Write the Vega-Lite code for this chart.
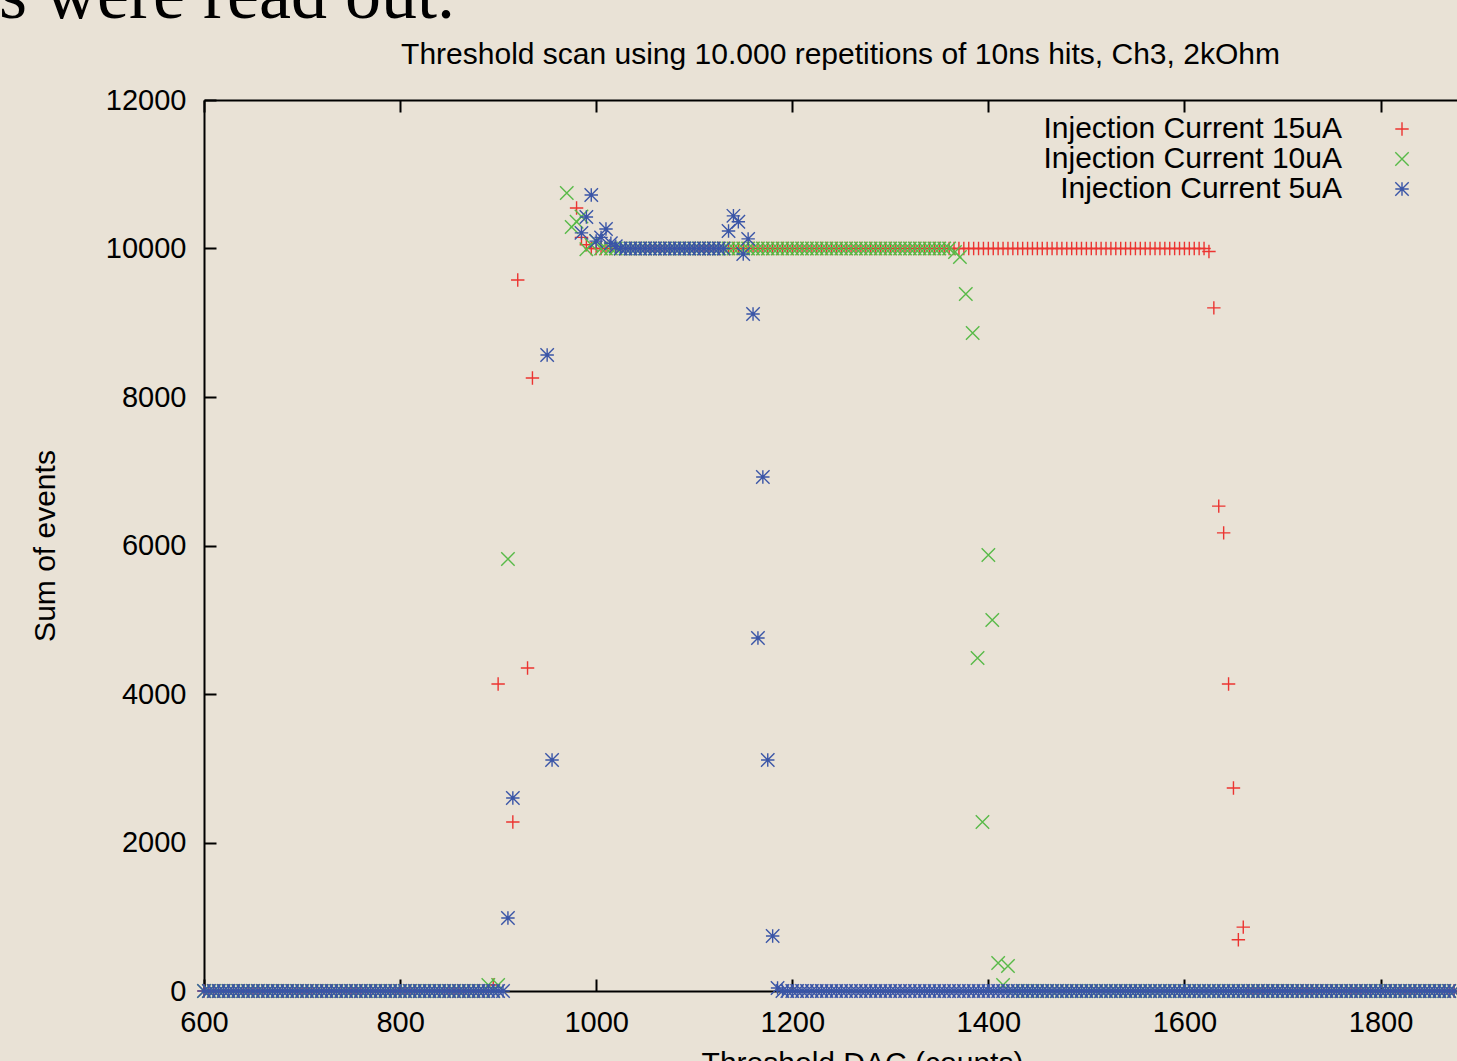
{
"$schema":"https://vega.github.io/schema/vega-lite/v6.json",
"width":1253,"height":891,
"autosize":{"type":"none"},
"padding":{"left":204,"top":100,"right":0,"bottom":70},
"background":"#E9E2D6",
"config":{"view":{"stroke":null},"font":"Liberation Sans",
"axis":{"labelFont":"Liberation Sans","labelFontSize":29,"labelColor":"black","titleFont":"Liberation Sans","titleFontSize":30,"titleFontWeight":"normal","titleColor":"black","domainColor":"black","domainWidth":2,"tickColor":"black","tickWidth":2,"tickSize":-12,"grid":false,"labelFlush":false,"format":"d"},
"legend":{"labelFont":"Liberation Sans","labelFontSize":30,"labelColor":"black","labelLimit":0}},
"title":{"text":"Threshold scan using 10.000 repetitions of 10ns hits, Ch3, 2kOhm","font":"Liberation Sans","fontSize":30,"fontWeight":"normal","color":"black","anchor":"middle","frame":"group","dx":10,"offset":-134,"baseline":"alphabetic"},
"layer":[
{"data":{"values":[
{"s":"a","x":600,"y":0},{"s":"a","x":605,"y":0},{"s":"a","x":610,"y":0},{"s":"a","x":615,"y":0},{"s":"a","x":620,"y":0},{"s":"a","x":625,"y":0},{"s":"a","x":630,"y":0},{"s":"a","x":635,"y":0},{"s":"a","x":640,"y":0},{"s":"a","x":645,"y":0},{"s":"a","x":650,"y":0},{"s":"a","x":655,"y":0},{"s":"a","x":660,"y":0},{"s":"a","x":665,"y":0},{"s":"a","x":670,"y":0},{"s":"a","x":675,"y":0},{"s":"a","x":680,"y":0},{"s":"a","x":685,"y":0},{"s":"a","x":690,"y":0},{"s":"a","x":695,"y":0},
{"s":"a","x":700,"y":0},{"s":"a","x":705,"y":0},{"s":"a","x":710,"y":0},{"s":"a","x":715,"y":0},{"s":"a","x":720,"y":0},{"s":"a","x":725,"y":0},{"s":"a","x":730,"y":0},{"s":"a","x":735,"y":0},{"s":"a","x":740,"y":0},{"s":"a","x":745,"y":0},{"s":"a","x":750,"y":0},{"s":"a","x":755,"y":0},{"s":"a","x":760,"y":0},{"s":"a","x":765,"y":0},{"s":"a","x":770,"y":0},{"s":"a","x":775,"y":0},{"s":"a","x":780,"y":0},{"s":"a","x":785,"y":0},{"s":"a","x":790,"y":0},{"s":"a","x":795,"y":0},
{"s":"a","x":800,"y":0},{"s":"a","x":805,"y":0},{"s":"a","x":810,"y":0},{"s":"a","x":815,"y":0},{"s":"a","x":820,"y":0},{"s":"a","x":825,"y":0},{"s":"a","x":830,"y":0},{"s":"a","x":835,"y":0},{"s":"a","x":840,"y":0},{"s":"a","x":845,"y":0},{"s":"a","x":850,"y":0},{"s":"a","x":855,"y":0},{"s":"a","x":860,"y":0},{"s":"a","x":865,"y":0},{"s":"a","x":870,"y":0},{"s":"a","x":875,"y":0},{"s":"a","x":880,"y":0},{"s":"a","x":885,"y":0},{"s":"a","x":890,"y":0},{"s":"a","x":895,"y":80},
{"s":"a","x":900,"y":4135},{"s":"a","x":915,"y":2276},{"s":"a","x":920,"y":9576},{"s":"a","x":930,"y":4350},{"s":"a","x":935,"y":8256},{"s":"a","x":980,"y":10545},{"s":"a","x":985,"y":10150},{"s":"a","x":990,"y":10050},
{"s":"a","x":995,"y":10000},{"s":"a","x":1000,"y":10000},{"s":"a","x":1005,"y":10000},{"s":"a","x":1010,"y":10000},{"s":"a","x":1015,"y":10000},{"s":"a","x":1020,"y":10000},{"s":"a","x":1025,"y":10000},{"s":"a","x":1030,"y":10000},{"s":"a","x":1035,"y":10000},{"s":"a","x":1040,"y":10000},{"s":"a","x":1045,"y":10000},{"s":"a","x":1050,"y":10000},{"s":"a","x":1055,"y":10000},{"s":"a","x":1060,"y":10000},{"s":"a","x":1065,"y":10000},{"s":"a","x":1070,"y":10000},{"s":"a","x":1075,"y":10000},{"s":"a","x":1080,"y":10000},{"s":"a","x":1085,"y":10000},{"s":"a","x":1090,"y":10000},{"s":"a","x":1095,"y":10000},
{"s":"a","x":1100,"y":10000},{"s":"a","x":1105,"y":10000},{"s":"a","x":1110,"y":10000},{"s":"a","x":1115,"y":10000},{"s":"a","x":1120,"y":10000},{"s":"a","x":1125,"y":10000},{"s":"a","x":1130,"y":10000},{"s":"a","x":1135,"y":10000},{"s":"a","x":1140,"y":10000},{"s":"a","x":1145,"y":10000},{"s":"a","x":1150,"y":10000},{"s":"a","x":1155,"y":10000},{"s":"a","x":1160,"y":10000},{"s":"a","x":1165,"y":10000},{"s":"a","x":1170,"y":10000},{"s":"a","x":1175,"y":10000},{"s":"a","x":1180,"y":10000},{"s":"a","x":1185,"y":10000},{"s":"a","x":1190,"y":10000},{"s":"a","x":1195,"y":10000},
{"s":"a","x":1200,"y":10000},{"s":"a","x":1205,"y":10000},{"s":"a","x":1210,"y":10000},{"s":"a","x":1215,"y":10000},{"s":"a","x":1220,"y":10000},{"s":"a","x":1225,"y":10000},{"s":"a","x":1230,"y":10000},{"s":"a","x":1235,"y":10000},{"s":"a","x":1240,"y":10000},{"s":"a","x":1245,"y":10000},{"s":"a","x":1250,"y":10000},{"s":"a","x":1255,"y":10000},{"s":"a","x":1260,"y":10000},{"s":"a","x":1265,"y":10000},{"s":"a","x":1270,"y":10000},{"s":"a","x":1275,"y":10000},{"s":"a","x":1280,"y":10000},{"s":"a","x":1285,"y":10000},{"s":"a","x":1290,"y":10000},{"s":"a","x":1295,"y":10000},
{"s":"a","x":1300,"y":10000},{"s":"a","x":1305,"y":10000},{"s":"a","x":1310,"y":10000},{"s":"a","x":1315,"y":10000},{"s":"a","x":1320,"y":10000},{"s":"a","x":1325,"y":10000},{"s":"a","x":1330,"y":10000},{"s":"a","x":1335,"y":10000},{"s":"a","x":1340,"y":10000},{"s":"a","x":1345,"y":10000},{"s":"a","x":1350,"y":10000},{"s":"a","x":1355,"y":10000},{"s":"a","x":1360,"y":10000},{"s":"a","x":1365,"y":10000},{"s":"a","x":1370,"y":10000},{"s":"a","x":1375,"y":10000},{"s":"a","x":1380,"y":10000},{"s":"a","x":1385,"y":10000},{"s":"a","x":1390,"y":10000},{"s":"a","x":1395,"y":10000},
{"s":"a","x":1400,"y":10000},{"s":"a","x":1405,"y":10000},{"s":"a","x":1410,"y":10000},{"s":"a","x":1415,"y":10000},{"s":"a","x":1420,"y":10000},{"s":"a","x":1425,"y":10000},{"s":"a","x":1430,"y":10000},{"s":"a","x":1435,"y":10000},{"s":"a","x":1440,"y":10000},{"s":"a","x":1445,"y":10000},{"s":"a","x":1450,"y":10000},{"s":"a","x":1455,"y":10000},{"s":"a","x":1460,"y":10000},{"s":"a","x":1465,"y":10000},{"s":"a","x":1470,"y":10000},{"s":"a","x":1475,"y":10000},{"s":"a","x":1480,"y":10000},{"s":"a","x":1485,"y":10000},{"s":"a","x":1490,"y":10000},{"s":"a","x":1495,"y":10000},
{"s":"a","x":1500,"y":10000},{"s":"a","x":1505,"y":10000},{"s":"a","x":1510,"y":10000},{"s":"a","x":1515,"y":10000},{"s":"a","x":1520,"y":10000},{"s":"a","x":1525,"y":10000},{"s":"a","x":1530,"y":10000},{"s":"a","x":1535,"y":10000},{"s":"a","x":1540,"y":10000},{"s":"a","x":1545,"y":10000},{"s":"a","x":1550,"y":10000},{"s":"a","x":1555,"y":10000},{"s":"a","x":1560,"y":10000},{"s":"a","x":1565,"y":10000},{"s":"a","x":1570,"y":10000},{"s":"a","x":1575,"y":10000},{"s":"a","x":1580,"y":10000},{"s":"a","x":1585,"y":10000},{"s":"a","x":1590,"y":10000},{"s":"a","x":1595,"y":10000},
{"s":"a","x":1600,"y":10000},{"s":"a","x":1605,"y":10000},{"s":"a","x":1610,"y":10000},{"s":"a","x":1615,"y":10000},{"s":"a","x":1620,"y":10000},{"s":"a","x":1625,"y":9960},{"s":"a","x":1630,"y":9200},{"s":"a","x":1635,"y":6530},{"s":"a","x":1640,"y":6170},{"s":"a","x":1645,"y":4135},{"s":"a","x":1650,"y":2735},{"s":"a","x":1655,"y":690},{"s":"a","x":1660,"y":860},
{"s":"a","x":1665,"y":0},{"s":"a","x":1670,"y":0},{"s":"a","x":1675,"y":0},{"s":"a","x":1680,"y":0},{"s":"a","x":1685,"y":0},{"s":"a","x":1690,"y":0},{"s":"a","x":1695,"y":0},{"s":"a","x":1700,"y":0},{"s":"a","x":1705,"y":0},{"s":"a","x":1710,"y":0},{"s":"a","x":1715,"y":0},{"s":"a","x":1720,"y":0},{"s":"a","x":1725,"y":0},{"s":"a","x":1730,"y":0},{"s":"a","x":1735,"y":0},{"s":"a","x":1740,"y":0},{"s":"a","x":1745,"y":0},{"s":"a","x":1750,"y":0},{"s":"a","x":1755,"y":0},{"s":"a","x":1760,"y":0},{"s":"a","x":1765,"y":0},{"s":"a","x":1770,"y":0},{"s":"a","x":1775,"y":0},{"s":"a","x":1780,"y":0},{"s":"a","x":1785,"y":0},{"s":"a","x":1790,"y":0},{"s":"a","x":1795,"y":0},{"s":"a","x":1800,"y":0},{"s":"a","x":1805,"y":0},{"s":"a","x":1810,"y":0},{"s":"a","x":1815,"y":0},{"s":"a","x":1820,"y":0},{"s":"a","x":1825,"y":0},{"s":"a","x":1830,"y":0},{"s":"a","x":1835,"y":0},{"s":"a","x":1840,"y":0},{"s":"a","x":1845,"y":0},{"s":"a","x":1850,"y":0},{"s":"a","x":1855,"y":0},{"s":"a","x":1860,"y":0},{"s":"a","x":1865,"y":0},{"s":"a","x":1870,"y":0},{"s":"a","x":1875,"y":0},

{"s":"b","x":600,"y":0},{"s":"b","x":605,"y":0},{"s":"b","x":610,"y":0},{"s":"b","x":615,"y":0},{"s":"b","x":620,"y":0},{"s":"b","x":625,"y":0},{"s":"b","x":630,"y":0},{"s":"b","x":635,"y":0},{"s":"b","x":640,"y":0},{"s":"b","x":645,"y":0},{"s":"b","x":650,"y":0},{"s":"b","x":655,"y":0},{"s":"b","x":660,"y":0},{"s":"b","x":665,"y":0},{"s":"b","x":670,"y":0},{"s":"b","x":675,"y":0},{"s":"b","x":680,"y":0},{"s":"b","x":685,"y":0},{"s":"b","x":690,"y":0},{"s":"b","x":695,"y":0},
{"s":"b","x":700,"y":0},{"s":"b","x":705,"y":0},{"s":"b","x":710,"y":0},{"s":"b","x":715,"y":0},{"s":"b","x":720,"y":0},{"s":"b","x":725,"y":0},{"s":"b","x":730,"y":0},{"s":"b","x":735,"y":0},{"s":"b","x":740,"y":0},{"s":"b","x":745,"y":0},{"s":"b","x":750,"y":0},{"s":"b","x":755,"y":0},{"s":"b","x":760,"y":0},{"s":"b","x":765,"y":0},{"s":"b","x":770,"y":0},{"s":"b","x":775,"y":0},{"s":"b","x":780,"y":0},{"s":"b","x":785,"y":0},{"s":"b","x":790,"y":0},{"s":"b","x":795,"y":0},
{"s":"b","x":800,"y":0},{"s":"b","x":805,"y":0},{"s":"b","x":810,"y":0},{"s":"b","x":815,"y":0},{"s":"b","x":820,"y":0},{"s":"b","x":825,"y":0},{"s":"b","x":830,"y":0},{"s":"b","x":835,"y":0},{"s":"b","x":840,"y":0},{"s":"b","x":845,"y":0},{"s":"b","x":850,"y":0},{"s":"b","x":855,"y":0},{"s":"b","x":860,"y":0},{"s":"b","x":865,"y":0},{"s":"b","x":870,"y":0},{"s":"b","x":875,"y":0},{"s":"b","x":880,"y":0},{"s":"b","x":885,"y":0},{"s":"b","x":890,"y":80},{"s":"b","x":895,"y":0},{"s":"b","x":900,"y":80},
{"s":"b","x":910,"y":5818},{"s":"b","x":970,"y":10747},{"s":"b","x":975,"y":10290},{"s":"b","x":980,"y":10360},{"s":"b","x":985,"y":10430},{"s":"b","x":990,"y":9990},{"s":"b","x":995,"y":10050},{"s":"b","x":1000,"y":10100},
{"s":"b","x":1005,"y":10000},{"s":"b","x":1010,"y":10000},{"s":"b","x":1015,"y":10000},{"s":"b","x":1020,"y":10000},{"s":"b","x":1025,"y":10000},{"s":"b","x":1030,"y":10000},{"s":"b","x":1035,"y":10000},{"s":"b","x":1040,"y":10000},{"s":"b","x":1045,"y":10000},{"s":"b","x":1050,"y":10000},{"s":"b","x":1055,"y":10000},{"s":"b","x":1060,"y":10000},{"s":"b","x":1065,"y":10000},{"s":"b","x":1070,"y":10000},{"s":"b","x":1075,"y":10000},{"s":"b","x":1080,"y":10000},{"s":"b","x":1085,"y":10000},{"s":"b","x":1090,"y":10000},{"s":"b","x":1095,"y":10000},
{"s":"b","x":1100,"y":10000},{"s":"b","x":1105,"y":10000},{"s":"b","x":1110,"y":10000},{"s":"b","x":1115,"y":10000},{"s":"b","x":1120,"y":10000},{"s":"b","x":1125,"y":10000},{"s":"b","x":1130,"y":10000},{"s":"b","x":1135,"y":10000},{"s":"b","x":1140,"y":10000},{"s":"b","x":1145,"y":10000},{"s":"b","x":1150,"y":10000},{"s":"b","x":1155,"y":10000},{"s":"b","x":1160,"y":10000},{"s":"b","x":1165,"y":10000},{"s":"b","x":1170,"y":10000},{"s":"b","x":1175,"y":10000},{"s":"b","x":1180,"y":10000},{"s":"b","x":1185,"y":10000},{"s":"b","x":1190,"y":10000},{"s":"b","x":1195,"y":10000},
{"s":"b","x":1200,"y":10000},{"s":"b","x":1205,"y":10000},{"s":"b","x":1210,"y":10000},{"s":"b","x":1215,"y":10000},{"s":"b","x":1220,"y":10000},{"s":"b","x":1225,"y":10000},{"s":"b","x":1230,"y":10000},{"s":"b","x":1235,"y":10000},{"s":"b","x":1240,"y":10000},{"s":"b","x":1245,"y":10000},{"s":"b","x":1250,"y":10000},{"s":"b","x":1255,"y":10000},{"s":"b","x":1260,"y":10000},{"s":"b","x":1265,"y":10000},{"s":"b","x":1270,"y":10000},{"s":"b","x":1275,"y":10000},{"s":"b","x":1280,"y":10000},{"s":"b","x":1285,"y":10000},{"s":"b","x":1290,"y":10000},{"s":"b","x":1295,"y":10000},
{"s":"b","x":1300,"y":10000},{"s":"b","x":1305,"y":10000},{"s":"b","x":1310,"y":10000},{"s":"b","x":1315,"y":10000},{"s":"b","x":1320,"y":10000},{"s":"b","x":1325,"y":10000},{"s":"b","x":1330,"y":10000},{"s":"b","x":1335,"y":10000},{"s":"b","x":1340,"y":10000},{"s":"b","x":1345,"y":10000},{"s":"b","x":1350,"y":10000},{"s":"b","x":1355,"y":10000},{"s":"b","x":1360,"y":10000},
{"s":"b","x":1366,"y":9953},{"s":"b","x":1371,"y":9885},{"s":"b","x":1377,"y":9387},{"s":"b","x":1384,"y":8862},{"s":"b","x":1389,"y":4485},{"s":"b","x":1394,"y":2276},{"s":"b","x":1400,"y":5872},{"s":"b","x":1404,"y":4997},{"s":"b","x":1410,"y":377},{"s":"b","x":1415,"y":80},{"s":"b","x":1420,"y":337},
{"s":"b","x":1425,"y":0},{"s":"b","x":1430,"y":0},{"s":"b","x":1435,"y":0},{"s":"b","x":1440,"y":0},{"s":"b","x":1445,"y":0},{"s":"b","x":1450,"y":0},{"s":"b","x":1455,"y":0},{"s":"b","x":1460,"y":0},{"s":"b","x":1465,"y":0},{"s":"b","x":1470,"y":0},{"s":"b","x":1475,"y":0},{"s":"b","x":1480,"y":0},{"s":"b","x":1485,"y":0},{"s":"b","x":1490,"y":0},{"s":"b","x":1495,"y":0},
{"s":"b","x":1500,"y":0},{"s":"b","x":1505,"y":0},{"s":"b","x":1510,"y":0},{"s":"b","x":1515,"y":0},{"s":"b","x":1520,"y":0},{"s":"b","x":1525,"y":0},{"s":"b","x":1530,"y":0},{"s":"b","x":1535,"y":0},{"s":"b","x":1540,"y":0},{"s":"b","x":1545,"y":0},{"s":"b","x":1550,"y":0},{"s":"b","x":1555,"y":0},{"s":"b","x":1560,"y":0},{"s":"b","x":1565,"y":0},{"s":"b","x":1570,"y":0},{"s":"b","x":1575,"y":0},{"s":"b","x":1580,"y":0},{"s":"b","x":1585,"y":0},{"s":"b","x":1590,"y":0},{"s":"b","x":1595,"y":0},
{"s":"b","x":1600,"y":0},{"s":"b","x":1605,"y":0},{"s":"b","x":1610,"y":0},{"s":"b","x":1615,"y":0},{"s":"b","x":1620,"y":0},{"s":"b","x":1625,"y":0},{"s":"b","x":1630,"y":0},{"s":"b","x":1635,"y":0},{"s":"b","x":1640,"y":0},{"s":"b","x":1645,"y":0},{"s":"b","x":1650,"y":0},{"s":"b","x":1655,"y":0},{"s":"b","x":1660,"y":0},{"s":"b","x":1665,"y":0},{"s":"b","x":1670,"y":0},{"s":"b","x":1675,"y":0},{"s":"b","x":1680,"y":0},{"s":"b","x":1685,"y":0},{"s":"b","x":1690,"y":0},{"s":"b","x":1695,"y":0},
{"s":"b","x":1700,"y":0},{"s":"b","x":1705,"y":0},{"s":"b","x":1710,"y":0},{"s":"b","x":1715,"y":0},{"s":"b","x":1720,"y":0},{"s":"b","x":1725,"y":0},{"s":"b","x":1730,"y":0},{"s":"b","x":1735,"y":0},{"s":"b","x":1740,"y":0},{"s":"b","x":1745,"y":0},{"s":"b","x":1750,"y":0},{"s":"b","x":1755,"y":0},{"s":"b","x":1760,"y":0},{"s":"b","x":1765,"y":0},{"s":"b","x":1770,"y":0},{"s":"b","x":1775,"y":0},{"s":"b","x":1780,"y":0},{"s":"b","x":1785,"y":0},{"s":"b","x":1790,"y":0},{"s":"b","x":1795,"y":0},
{"s":"b","x":1800,"y":0},{"s":"b","x":1805,"y":0},{"s":"b","x":1810,"y":0},{"s":"b","x":1815,"y":0},{"s":"b","x":1820,"y":0},{"s":"b","x":1825,"y":0},{"s":"b","x":1830,"y":0},{"s":"b","x":1835,"y":0},{"s":"b","x":1840,"y":0},{"s":"b","x":1845,"y":0},{"s":"b","x":1850,"y":0},{"s":"b","x":1855,"y":0},{"s":"b","x":1860,"y":0},{"s":"b","x":1865,"y":0},{"s":"b","x":1870,"y":0},{"s":"b","x":1875,"y":0},

{"s":"c","x":600,"y":0},{"s":"c","x":605,"y":0},{"s":"c","x":610,"y":0},{"s":"c","x":615,"y":0},{"s":"c","x":620,"y":0},{"s":"c","x":625,"y":0},{"s":"c","x":630,"y":0},{"s":"c","x":635,"y":0},{"s":"c","x":640,"y":0},{"s":"c","x":645,"y":0},{"s":"c","x":650,"y":0},{"s":"c","x":655,"y":0},{"s":"c","x":660,"y":0},{"s":"c","x":665,"y":0},{"s":"c","x":670,"y":0},{"s":"c","x":675,"y":0},{"s":"c","x":680,"y":0},{"s":"c","x":685,"y":0},{"s":"c","x":690,"y":0},{"s":"c","x":695,"y":0},
{"s":"c","x":700,"y":0},{"s":"c","x":705,"y":0},{"s":"c","x":710,"y":0},{"s":"c","x":715,"y":0},{"s":"c","x":720,"y":0},{"s":"c","x":725,"y":0},{"s":"c","x":730,"y":0},{"s":"c","x":735,"y":0},{"s":"c","x":740,"y":0},{"s":"c","x":745,"y":0},{"s":"c","x":750,"y":0},{"s":"c","x":755,"y":0},{"s":"c","x":760,"y":0},{"s":"c","x":765,"y":0},{"s":"c","x":770,"y":0},{"s":"c","x":775,"y":0},{"s":"c","x":780,"y":0},{"s":"c","x":785,"y":0},{"s":"c","x":790,"y":0},{"s":"c","x":795,"y":0},
{"s":"c","x":800,"y":0},{"s":"c","x":805,"y":0},{"s":"c","x":810,"y":0},{"s":"c","x":815,"y":0},{"s":"c","x":820,"y":0},{"s":"c","x":825,"y":0},{"s":"c","x":830,"y":0},{"s":"c","x":835,"y":0},{"s":"c","x":840,"y":0},{"s":"c","x":845,"y":0},{"s":"c","x":850,"y":0},{"s":"c","x":855,"y":0},{"s":"c","x":860,"y":0},{"s":"c","x":865,"y":0},{"s":"c","x":870,"y":0},{"s":"c","x":875,"y":0},{"s":"c","x":880,"y":0},{"s":"c","x":885,"y":0},{"s":"c","x":890,"y":0},{"s":"c","x":895,"y":0},{"s":"c","x":900,"y":0},{"s":"c","x":905,"y":0},
{"s":"c","x":910,"y":983},{"s":"c","x":915,"y":2600},{"s":"c","x":950,"y":8566},{"s":"c","x":955,"y":3111},{"s":"c","x":985,"y":10210},{"s":"c","x":990,"y":10425},{"s":"c","x":995,"y":10720},{"s":"c","x":1000,"y":10100},{"s":"c","x":1005,"y":10150},{"s":"c","x":1010,"y":10263},{"s":"c","x":1015,"y":10070},{"s":"c","x":1020,"y":10030},
{"s":"c","x":1025,"y":10000},{"s":"c","x":1030,"y":10000},{"s":"c","x":1035,"y":10000},{"s":"c","x":1040,"y":10000},{"s":"c","x":1045,"y":10000},{"s":"c","x":1050,"y":10000},{"s":"c","x":1055,"y":10000},{"s":"c","x":1060,"y":10000},{"s":"c","x":1065,"y":10000},{"s":"c","x":1070,"y":10000},{"s":"c","x":1075,"y":10000},{"s":"c","x":1080,"y":10000},{"s":"c","x":1085,"y":10000},{"s":"c","x":1090,"y":10000},{"s":"c","x":1095,"y":10000},{"s":"c","x":1100,"y":10000},{"s":"c","x":1105,"y":10000},{"s":"c","x":1110,"y":10000},{"s":"c","x":1115,"y":10000},{"s":"c","x":1120,"y":10000},{"s":"c","x":1125,"y":10000},{"s":"c","x":1130,"y":10000},
{"s":"c","x":1135,"y":10235},{"s":"c","x":1140,"y":10440},{"s":"c","x":1145,"y":10360},{"s":"c","x":1150,"y":9925},{"s":"c","x":1155,"y":10130},{"s":"c","x":1160,"y":9118},{"s":"c","x":1165,"y":4754},{"s":"c","x":1170,"y":6923},{"s":"c","x":1175,"y":3111},{"s":"c","x":1180,"y":741},{"s":"c","x":1185,"y":40},
{"s":"c","x":1190,"y":0},{"s":"c","x":1195,"y":0},
{"s":"c","x":1200,"y":0},{"s":"c","x":1205,"y":0},{"s":"c","x":1210,"y":0},{"s":"c","x":1215,"y":0},{"s":"c","x":1220,"y":0},{"s":"c","x":1225,"y":0},{"s":"c","x":1230,"y":0},{"s":"c","x":1235,"y":0},{"s":"c","x":1240,"y":0},{"s":"c","x":1245,"y":0},{"s":"c","x":1250,"y":0},{"s":"c","x":1255,"y":0},{"s":"c","x":1260,"y":0},{"s":"c","x":1265,"y":0},{"s":"c","x":1270,"y":0},{"s":"c","x":1275,"y":0},{"s":"c","x":1280,"y":0},{"s":"c","x":1285,"y":0},{"s":"c","x":1290,"y":0},{"s":"c","x":1295,"y":0},
{"s":"c","x":1300,"y":0},{"s":"c","x":1305,"y":0},{"s":"c","x":1310,"y":0},{"s":"c","x":1315,"y":0},{"s":"c","x":1320,"y":0},{"s":"c","x":1325,"y":0},{"s":"c","x":1330,"y":0},{"s":"c","x":1335,"y":0},{"s":"c","x":1340,"y":0},{"s":"c","x":1345,"y":0},{"s":"c","x":1350,"y":0},{"s":"c","x":1355,"y":0},{"s":"c","x":1360,"y":0},{"s":"c","x":1365,"y":0},{"s":"c","x":1370,"y":0},{"s":"c","x":1375,"y":0},{"s":"c","x":1380,"y":0},{"s":"c","x":1385,"y":0},{"s":"c","x":1390,"y":0},{"s":"c","x":1395,"y":0},
{"s":"c","x":1400,"y":0},{"s":"c","x":1405,"y":0},{"s":"c","x":1410,"y":0},{"s":"c","x":1415,"y":0},{"s":"c","x":1420,"y":0},{"s":"c","x":1425,"y":0},{"s":"c","x":1430,"y":0},{"s":"c","x":1435,"y":0},{"s":"c","x":1440,"y":0},{"s":"c","x":1445,"y":0},{"s":"c","x":1450,"y":0},{"s":"c","x":1455,"y":0},{"s":"c","x":1460,"y":0},{"s":"c","x":1465,"y":0},{"s":"c","x":1470,"y":0},{"s":"c","x":1475,"y":0},{"s":"c","x":1480,"y":0},{"s":"c","x":1485,"y":0},{"s":"c","x":1490,"y":0},{"s":"c","x":1495,"y":0},
{"s":"c","x":1500,"y":0},{"s":"c","x":1505,"y":0},{"s":"c","x":1510,"y":0},{"s":"c","x":1515,"y":0},{"s":"c","x":1520,"y":0},{"s":"c","x":1525,"y":0},{"s":"c","x":1530,"y":0},{"s":"c","x":1535,"y":0},{"s":"c","x":1540,"y":0},{"s":"c","x":1545,"y":0},{"s":"c","x":1550,"y":0},{"s":"c","x":1555,"y":0},{"s":"c","x":1560,"y":0},{"s":"c","x":1565,"y":0},{"s":"c","x":1570,"y":0},{"s":"c","x":1575,"y":0},{"s":"c","x":1580,"y":0},{"s":"c","x":1585,"y":0},{"s":"c","x":1590,"y":0},{"s":"c","x":1595,"y":0},
{"s":"c","x":1600,"y":0},{"s":"c","x":1605,"y":0},{"s":"c","x":1610,"y":0},{"s":"c","x":1615,"y":0},{"s":"c","x":1620,"y":0},{"s":"c","x":1625,"y":0},{"s":"c","x":1630,"y":0},{"s":"c","x":1635,"y":0},{"s":"c","x":1640,"y":0},{"s":"c","x":1645,"y":0},{"s":"c","x":1650,"y":0},{"s":"c","x":1655,"y":0},{"s":"c","x":1660,"y":0},{"s":"c","x":1665,"y":0},{"s":"c","x":1670,"y":0},{"s":"c","x":1675,"y":0},{"s":"c","x":1680,"y":0},{"s":"c","x":1685,"y":0},{"s":"c","x":1690,"y":0},{"s":"c","x":1695,"y":0},
{"s":"c","x":1700,"y":0},{"s":"c","x":1705,"y":0},{"s":"c","x":1710,"y":0},{"s":"c","x":1715,"y":0},{"s":"c","x":1720,"y":0},{"s":"c","x":1725,"y":0},{"s":"c","x":1730,"y":0},{"s":"c","x":1735,"y":0},{"s":"c","x":1740,"y":0},{"s":"c","x":1745,"y":0},{"s":"c","x":1750,"y":0},{"s":"c","x":1755,"y":0},{"s":"c","x":1760,"y":0},{"s":"c","x":1765,"y":0},{"s":"c","x":1770,"y":0},{"s":"c","x":1775,"y":0},{"s":"c","x":1780,"y":0},{"s":"c","x":1785,"y":0},{"s":"c","x":1790,"y":0},{"s":"c","x":1795,"y":0},
{"s":"c","x":1800,"y":0},{"s":"c","x":1805,"y":0},{"s":"c","x":1810,"y":0},{"s":"c","x":1815,"y":0},{"s":"c","x":1820,"y":0},{"s":"c","x":1825,"y":0},{"s":"c","x":1830,"y":0},{"s":"c","x":1835,"y":0},{"s":"c","x":1840,"y":0},{"s":"c","x":1845,"y":0},{"s":"c","x":1850,"y":0},{"s":"c","x":1855,"y":0},{"s":"c","x":1860,"y":0},{"s":"c","x":1865,"y":0},{"s":"c","x":1870,"y":0},{"s":"c","x":1875,"y":0}
]},
"mark":{"type":"point","filled":false,"strokeWidth":1.4,"size":180,"opacity":1},
"encoding":{
"x":{"field":"x","type":"quantitative","scale":{"domain":[600,1878],"nice":false,"zero":false},
"axis":{"orient":"bottom","values":[600,800,1000,1200,1400,1600,1800],"labelPadding":29,"title":"Threshold DAC (counts)","titleX":658,"titleY":81,"titleBaseline":"alphabetic","titleAlign":"center","titleAnchor":null}},
"y":{"field":"y","type":"quantitative","scale":{"domain":[0,12000],"nice":false},
"axis":{"values":[0,2000,4000,6000,8000,10000,12000],"labelPadding":30,"title":"Sum of events","titleX":-150,"titleY":445.5,"titleAngle":-90,"titleBaseline":"alphabetic","titleAlign":"center"}},
"color":{"field":"s","type":"nominal","scale":{"domain":["a","b","c"],"range":["#EC3431","#58BA48","#3A55A7"]},
"legend":{"orient":"none","legendX":1183,"legendY":14,"title":null,"padding":0,"rowPadding":0,"labelAlign":"right","labelOffset":-75,"labelFontSize":30,"labelLimit":0,"symbolSize":180,"symbolStrokeWidth":1.4,
"labelExpr":"datum.label == 'a' ? 'Injection Current 15uA' : datum.label == 'b' ? 'Injection Current 10uA' : 'Injection Current 5uA'"}},
"shape":{"field":"s","type":"nominal","scale":{"domain":["a","b","c"],"range":["M-1,0L1,0M0,-1L0,1","M-1,-1L1,1M-1,1L1,-1","M-1,0L1,0M0,-1L0,1M-1,-1L1,1M-1,1L1,-1"]},
"legend":{"orient":"none","legendX":1183,"legendY":14,"title":null,"padding":0,"rowPadding":0,"labelAlign":"right","labelOffset":-75,"labelFontSize":30,"labelLimit":0,"symbolSize":180,"symbolStrokeWidth":1.4,
"labelExpr":"datum.label == 'a' ? 'Injection Current 15uA' : datum.label == 'b' ? 'Injection Current 10uA' : 'Injection Current 5uA'"}}
}},
{"data":{"values":[{"x":391,"y":13100,"t":"s were read out."}]},
"mark":{"type":"text","font":"Liberation Serif","fontSize":72,"align":"left","baseline":"alphabetic","color":"black"},
"encoding":{
"x":{"field":"x","type":"quantitative","scale":{"domain":[600,1878],"nice":false,"zero":false},
"axis":{"orient":"top","values":[600,800,1000,1200,1400,1600,1800],"labels":false,"title":null}},
"y":{"field":"y","type":"quantitative","scale":{"domain":[0,12000],"nice":false},"axis":null},
"text":{"field":"t"}}}
],
"resolve":{"axis":{"x":"independent","y":"independent"}}
}
